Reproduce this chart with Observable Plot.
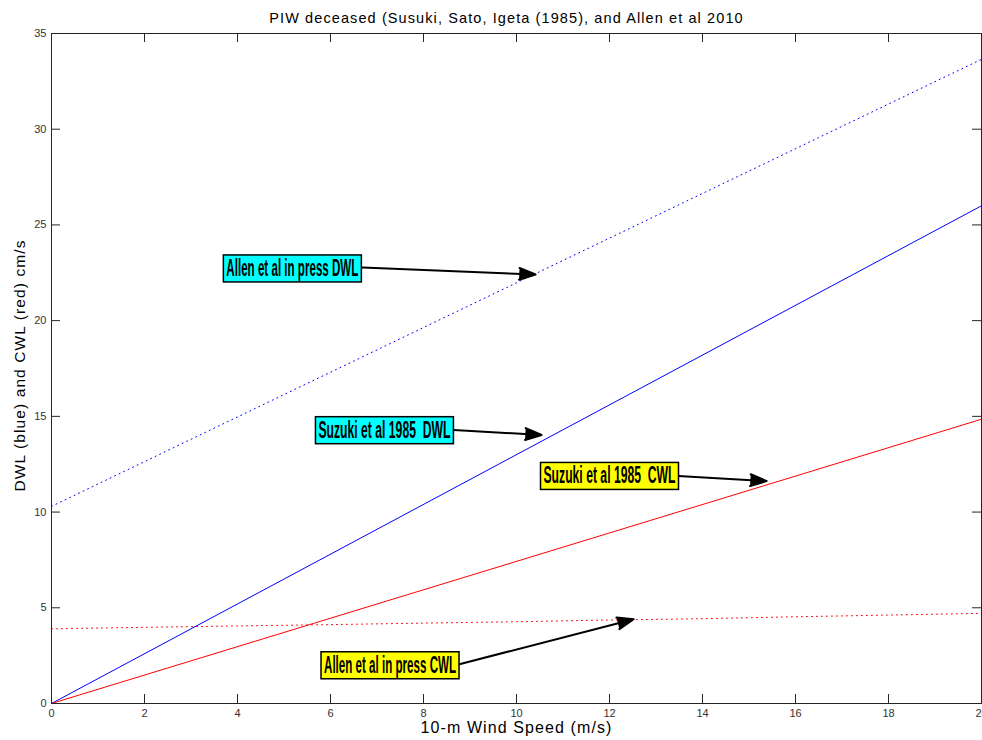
<!DOCTYPE html>
<html>
<head>
<meta charset="utf-8">
<script src="https://cdn.jsdelivr.net/npm/d3@7"></script>
<script src="https://cdn.jsdelivr.net/npm/@observablehq/plot@0.6"></script>
<style>
  html, body { margin: 0; padding: 0; background: #fff; overflow: hidden; }
</style>
</head>
<body>
<script>
// ---- data ----
const titleText = "PIW deceased (Susuki, Sato, Igeta (1985), and Allen et al 2010";
const xLabel = "10-m Wind Speed (m/s)";
const yLabel = "DWL (blue) and CWL (red) cm/s";

const xTicks = [0, 2, 4, 6, 8, 10, 12, 14, 16, 18, 20];
const yTicks = [0, 5, 10, 15, 20, 25, 30, 35];

const speed = [0, 20];
const suzukiDWL = [0, 26.0];
const suzukiCWL = [0, 14.85];
const allenDWL = [10.3, 33.65];
const allenCWLSpeed = [0, 2, 4, 6, 8, 10, 12, 14, 16, 18, 20];
const allenCWL = [3.9, 3.98, 4.05, 4.12, 4.2, 4.27, 4.36, 4.43, 4.53, 4.62, 4.71];

const annLabels = ["Allen et al in press DWL", "Suzuki et al 1985  DWL", "Suzuki et al 1985  CWL", "Allen et al in press CWL"];
const annFill = ["#00ffff", "#00ffff", "#ffff00", "#ffff00"];
const annX = [5.18, 7.16, 12.0, 7.28];
const annY = [22.72, 14.27, 11.88, 1.99];
const arrowX1 = [6.69, 8.65, 13.48, 8.75];
const arrowY1 = [22.77, 14.29, 11.88, 2.04];
const arrowX2 = [10.41, 10.54, 15.38, 12.52];
const arrowY2 = [22.41, 14.03, 11.62, 4.40];

// ---- tables ----
const pts = (xs, ys) => xs.map((x, i) => ({x, y: ys[i]}));
const anns = annLabels.map((label, i) => ({
  label, fill: annFill[i], x: annX[i], y: annY[i],
  x1: arrowX1[i], y1: arrowY1[i], x2: arrowX2[i], y2: arrowY2[i]
}));

const W = 982, H = 740;
const mT = 33, mB = 37, mL = 51, mR = 1;
const plotW = W - mL - mR, plotH = H - mT - mB;
const tick = 9;
const axisColor = "#262626";
const dots = "1,4";

const plot = Plot.plot({
  width: W, height: H,
  marginTop: mT, marginBottom: mB, marginLeft: mL, marginRight: mR,
  style: {fontFamily: "'Liberation Sans', Arial, sans-serif", background: "#fff", overflow: "visible"},
  x: {domain: [0, 20]},
  y: {domain: [0, 35]},
  marks: [
    // inward ticks on all four sides
    Plot.tickX(xTicks, {x: d => d, insetTop: plotH - tick, stroke: axisColor}),
    Plot.tickX(xTicks, {x: d => d, insetBottom: plotH - tick, stroke: axisColor}),
    Plot.tickY(yTicks, {y: d => d, insetRight: plotW - tick, stroke: axisColor}),
    Plot.tickY(yTicks, {y: d => d, insetLeft: plotW - tick, stroke: axisColor}),
    Plot.axisX(xTicks, {anchor: "bottom", tickSize: 0, tickPadding: 6, fontSize: 11, color: "#333", label: null}),
    Plot.axisY(yTicks, {anchor: "left", tickSize: 0, tickPadding: 5, fontSize: 11, color: "#333", label: null}),
    // series
    Plot.line(pts(speed, allenDWL), {x: "x", y: "y", stroke: "#0000ff", strokeWidth: 1, strokeDasharray: dots}),
    Plot.line(pts(allenCWLSpeed, allenCWL), {x: "x", y: "y", stroke: "#ff0000", strokeWidth: 1, strokeDasharray: dots}),
    Plot.line(pts(speed, suzukiDWL), {x: "x", y: "y", stroke: "#0000ff", strokeWidth: 1}),
    Plot.line(pts(speed, suzukiCWL), {x: "x", y: "y", stroke: "#ff0000", strokeWidth: 1}),
    Plot.frame({stroke: axisColor}),
    // annotations (filled heads)
    Plot.arrow(anns, {x1: "x1", y1: "y1", x2: "x2", y2: "y2", stroke: "#000", fill: "#000", strokeWidth: 2, headLength: 13, headAngle: 40}),
    Plot.text(anns, {x: "x", y: "y", text: "label", fontFamily: "'Liberation Sans Narrow', 'Liberation Sans', sans-serif",
      fontWeight: "bold", fontSize: 23, fill: "#000"}),
    // titles
    Plot.text([titleText], {frameAnchor: "top", dx: -10, dy: -21, fontSize: 14.5, fill: "#000"}),
    Plot.text([xLabel], {frameAnchor: "bottom", dy: 29, fontSize: 16, fill: "#000"}),
    Plot.text([yLabel], {frameAnchor: "left", textAnchor: "middle", dx: -31.5, dy: -3, rotate: -90, fontSize: 15.5, fill: "#000"})
  ]
});

document.body.append(plot);

const svg = d3.select(plot.tagName.toLowerCase() === "svg" ? plot : plot.querySelector("svg"));
const spaced = [titleText, xLabel, yLabel];
svg.selectAll("text").each(function () {
  const t = this.textContent;
  if (spaced.includes(t)) { this.style.letterSpacing = "1.1px"; return; }
  const i = annLabels.indexOf(t);
  if (i < 0) return;
  // boxes behind annotation labels
  this.setAttribute("xml:space", "preserve");
  this.style.whiteSpace = "pre";
  this.setAttribute("textLength", 132);
  this.setAttribute("lengthAdjust", "spacingAndGlyphs");
  const b = this.getBBox();
  const pad = 3;
  const r = document.createElementNS("http://www.w3.org/2000/svg", "rect");
  r.setAttribute("x", b.x - pad);
  r.setAttribute("y", b.y);
  r.setAttribute("width", b.width + 2 * pad);
  r.setAttribute("height", b.height + 1);
  r.setAttribute("fill", annFill[i]);
  r.setAttribute("stroke", "#000");
  r.setAttribute("stroke-width", 1.5);
  const tr = this.getAttribute("transform");
  if (tr) r.setAttribute("transform", tr);
  this.parentNode.insertBefore(r, this);
});
</script>
</body>
</html>
